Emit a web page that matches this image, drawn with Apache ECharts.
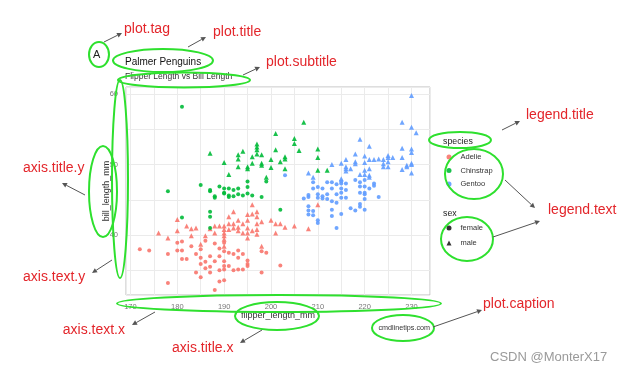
<!DOCTYPE html>
<html><head><meta charset="utf-8">
<script src="https://cdn.jsdelivr.net/npm/echarts@6/dist/echarts.min.js"></script>
<style>html,body{margin:0;padding:0;background:#fff}#c{width:631px;height:373px}</style>
</head><body><div id="c"></div>
<script>
const xTicks = [170,180,190,200,210,220,230];
const yTicks = [40,50,60];
const speciesNames = ['Adelie','Chinstrap','Gentoo'];
const sexNames = ['female','male'];

const adelieFemale = [[172,38.0],[174,37.8],[178,37.3],[178,33.2],[180,38.9],[180,37.8],[181,37.8],[181,36.6],[182,36.6],[183,38.4],[184,37.3],[184,34.7],[185,38.0],[185,36.8],[185,35.9],[185,34.0],[186,36.2],[186,35.3],[187,37.0],[187,35.5],[187,34.7],[188,36.3],[188,32.2],[189,38.1],[189,37.0],[189,35.0],[189,33.4],[190,37.7],[190,36.3],[190,35.6],[190,35.1],[190,33.6],[191,37.5],[191,35.6],[192,37.3],[192,35.0],[193,37.8],[193,36.8],[193,35.1],[194,37.3],[194,35.1],[195,36.4],[195,35.9],[195,35.6],[198,37.7],[198,34.7],[199,37.5],[202,35.7],[181,39.1],[186,39.2],[190,38.9],[188,38.8]];
const adelieMale = [[176,40.3],[178,39.6],[180,42.2],[180,40.6],[182,41.3],[183,40.9],[183,39.9],[184,41.0],[185,38.7],[186,39.9],[187,40.9],[188,41.3],[188,40.3],[189,41.3],[190,41.3],[190,40.8],[190,40.3],[190,39.9],[190,39.4],[190,38.4],[191,42.6],[191,41.6],[191,40.8],[192,43.3],[192,41.6],[192,41.0],[193,42.1],[193,41.1],[193,40.6],[194,41.6],[194,40.3],[195,42.9],[195,42.1],[195,41.0],[195,40.3],[195,39.6],[196,44.3],[196,43.0],[196,40.6],[197,43.3],[197,42.6],[197,41.6],[197,40.8],[197,40.1],[198,41.9],[198,38.4],[200,42.1],[201,41.6],[201,40.3],[202,41.6],[203,41.1],[205,41.3],[208,40.9],[210,44.3]];
const chinstrapFemale = [[181,58.2],[178,46.2],[181,42.5],[185,47.1],[187,46.4],[187,46.2],[187,43.3],[187,42.6],[187,41.0],[188,45.5],[188,45.3],[189,46.9],[190,46.6],[190,46.0],[190,45.9],[191,46.6],[191,45.4],[191,45.6],[192,46.4],[192,45.5],[193,46.6],[193,45.8],[194,45.6],[195,47.6],[195,46.8],[195,45.9],[196,45.6],[198,45.4],[199,47.6],[202,43.6]];
const chinstrapMale = [[187,51.6],[190,50.3],[193,51.4],[193,50.8],[193,49.7],[194,51.9],[195,49.7],[195,49.4],[196,51.1],[196,50.2],[197,52.9],[197,52.5],[197,52.1],[197,51.5],[198,51.4],[198,50.2],[198,49.9],[200,50.7],[200,49.6],[201,54.4],[201,52.1],[202,50.4],[203,51.1],[203,50.8],[203,49.4],[205,53.7],[205,53.0],[206,52.0],[207,56.0],[210,52.2],[210,51.0],[210,49.2],[212,49.2],[191,48.6],[199,48.2]];
const gentooFemale = [[203,48.5],[209,47.5],[209,46.6],[210,46.8],[211,46.6],[212,47.5],[213,47.5],[213,46.6],[214,47.2],[215,47.6],[215,47.3],[215,46.6],[218,47.8],[219,47.5],[219,46.9],[220,47.8],[220,46.9],[221,46.6],[222,47.3],[222,47.0],[216,47.3],[216,46.4],[207,45.2],[208,45.4],[208,45.7],[208,44.1],[208,43.5],[208,42.9],[209,43.4],[209,42.8],[210,45.8],[210,45.3],[210,42.1],[210,41.7],[211,45.5],[211,45.2],[212,45.8],[212,45.1],[213,44.8],[213,43.6],[213,42.7],[214,45.8],[214,44.6],[214,41.0],[215,46.0],[215,45.3],[215,43.0],[216,45.3],[217,43.8],[218,43.5],[219,46.0],[219,44.4],[219,44.0],[220,45.8],[220,45.1],[220,43.6],[220,46.0],[223,45.4]];
const gentooMale = [[230,59.8],[228,56.0],[230,55.3],[231,54.5],[219,53.6],[221,52.6],[228,52.3],[230,52.2],[230,51.7],[218,51.5],[225,51.3],[220,51.2],[225,51.0],[226,51.0],[228,51.0],[223,50.8],[216,50.7],[221,50.7],[222,50.7],[224,50.7],[225,50.4],[218,50.4],[220,50.3],[215,50.2],[230,50.2],[218,50.1],[224,50.1],[213,50.0],[230,50.0],[229,49.9],[216,49.7],[224,49.7],[225,49.7],[229,49.7],[216,49.4],[217,49.4],[221,49.4],[228,49.3],[220,49.2],[216,49.1],[230,48.8],[208,48.8],[219,48.6],[220,48.6],[221,48.5],[209,48.2],[221,48.2],[215,48.0]];

const FONT = "'Liberation Sans', Arial, sans-serif";
const COLORS = {Adelie:'#F8766D', Chinstrap:'#00BA38', Gentoo:'#619CFF'};
const GREEN = '#2ee02e', RED = '#e3262b', ARROW = '#555';

function isTick(list, v){ return list.some(t => Math.abs(t - v) < 1e-6); }

function ellipse(cx, cy, rx, ry){
  return {type:'ellipse', z:100, silent:true, shape:{cx, cy, rx, ry}, style:{fill:'none', stroke:GREEN, lineWidth:2}};
}
function redText(text, x, y, align){
  return {type:'text', z:100, silent:true, x, y, style:{text, fill:RED, fontSize:14, fontFamily:FONT, align:align||'left', verticalAlign:'middle'}};
}
function arrow(x1, y1, x2, y2){
  const a = Math.atan2(y2-y1, x2-x1), L = 5, W = 2.5;
  const bx = x2 - L*Math.cos(a), by = y2 - L*Math.sin(a);
  return [
    {type:'line', z:100, silent:true, shape:{x1, y1, x2:bx, y2:by}, style:{stroke:ARROW, lineWidth:1}},
    {type:'polygon', z:100, silent:true, shape:{points:[[x2,y2],[bx+W*Math.sin(a), by-W*Math.cos(a)],[bx-W*Math.sin(a), by+W*Math.cos(a)]]}, style:{fill:ARROW}}
  ];
}

const chart = echarts.init(document.getElementById('c'), null, {renderer:'canvas'});

function sc(name, data, sym){
  return {name, type:'scatter', data, symbol:sym, symbolSize: sym==='triangle'?5:4,
    itemStyle:{color:COLORS[name], opacity:0.9}, emphasis:{disabled:true}};
}

const graphics = [
  ellipse(99,54.5,10,12.5),
  ellipse(163,60.5,50,11.5),
  ellipse(184,80,66,7.5),
  ellipse(103,191.5,14,45.5),
  ellipse(120,179,8,99),
  ellipse(279,303.5,162,8.5),
  ellipse(277,316,42,14),
  ellipse(403,328,31,13),
  ellipse(460,140,31,8),
  ellipse(474,174,29,25),
  ellipse(467,239,26,22),
  redText('plot.tag',124,29),
  redText('plot.title',213,32),
  redText('plot.subtitle',266,62),
  redText('axis.title.y',23,168),
  redText('axis.text.y',23,277),
  redText('axis.text.x',125,330,'right'),
  redText('axis.title.x',172,348),
  redText('plot.caption',483,304),
  redText('legend.title',526,115),
  redText('legend.text',548,210),
  ...arrow(104,42,122,33),
  ...arrow(188,47,206,37),
  ...arrow(243,75,260,67),
  ...arrow(85,195,62,183),
  ...arrow(112,260,92,273),
  ...arrow(155,312,132,325),
  ...arrow(262,330,240,343),
  ...arrow(433,327,482,310),
  ...arrow(502,130,520,121),
  ...arrow(505,180,535,208),
  ...arrow(493,237,540,221),
  {type:'text', z:50, silent:true, x:443, y:142, style:{text:'species', fill:'#222', fontSize:8.8, fontFamily:FONT, verticalAlign:'middle'}},
  {type:'text', z:50, silent:true, x:443, y:214, style:{text:'sex', fill:'#222', fontSize:8.8, fontFamily:FONT, verticalAlign:'middle'}},
  {type:'text', z:50, silent:true, x:490, y:357, style:{text:'CSDN @MonterX17', fill:'#9a9a9a', fontSize:13, fontFamily:FONT, verticalAlign:'middle'}}
];

const legendText = {fontSize:7.5, color:'#333', fontFamily:FONT, lineHeight:9, padding:[0,0,0,4]};

const option = {
  animation:false,
  backgroundColor:'#fff',
  title:[
    {text:'A', left:93, top:49, padding:0, textStyle:{fontSize:11, fontWeight:'normal', color:'#222', fontFamily:FONT}},
    {text:'Palmer Penguins', subtext:'Flipper Length vs Bill Length', left:125, top:57, padding:0, itemGap:5,
      textStyle:{fontSize:10, fontWeight:'normal', color:'#111', fontFamily:FONT},
      subtextStyle:{fontSize:8.5, color:'#333', fontFamily:FONT}},
    {text:'cmdlinetips.com', right:201, top:325, padding:0, textStyle:{fontSize:7.2, fontWeight:'normal', color:'#333', fontFamily:FONT}}
  ],
  grid:{left:126, top:87, right:201, bottom:78, show:true, borderColor:'#bdbdbd', borderWidth:1, backgroundColor:'#fff'},
  xAxis:{type:'value', min:169.05, max:233.95, minInterval:5, maxInterval:5,
    name:'flipper_length_mm', nameLocation:'middle', nameGap:16, nameMoveOverlap:false,
    nameTextStyle:{fontSize:9, color:'#333', fontFamily:FONT},
    axisLine:{show:false}, axisTick:{show:false},
    axisLabel:{fontSize:7.5, color:'#777', fontFamily:FONT, margin:8, showMinLabel:false, showMaxLabel:false,
      formatter: v => isTick(xTicks, v) ? String(Math.round(v)) : ''},
    splitLine:{show:true, lineStyle:{color:'#ebebeb', width:1}}},
  yAxis:{type:'value', min:31.5, max:61, minInterval:5, maxInterval:5,
    name:'bill_length_mm', nameLocation:'middle', nameGap:15, nameMoveOverlap:false,
    nameTextStyle:{fontSize:9, color:'#333', fontFamily:FONT},
    axisLine:{show:false}, axisTick:{show:false},
    axisLabel:{fontSize:7.5, color:'#777', fontFamily:FONT, margin:8, showMinLabel:false, showMaxLabel:false,
      formatter: v => isTick(yTicks, v) ? String(Math.round(v)) : ''},
    splitLine:{show:true, lineStyle:{color:'#ebebeb', width:1}}},
  legend:[
    {data:speciesNames.map(n => ({name:n, icon:'circle'})), orient:'vertical', left:446.5, top:152.5, padding:0,
      itemWidth:5, itemHeight:5, itemGap:4.5, selectedMode:false, textStyle:legendText},
    {data:[{name:sexNames[0], icon:'circle'},{name:sexNames[1], icon:'triangle'}], orient:'vertical', left:446.5, top:223.5, padding:0,
      itemWidth:5, itemHeight:5, itemGap:6, selectedMode:false, textStyle:legendText}
  ],
  series:[
    sc('Adelie', adelieFemale, 'circle'),
    sc('Adelie', adelieMale, 'triangle'),
    sc('Chinstrap', chinstrapFemale, 'circle'),
    sc('Chinstrap', chinstrapMale, 'triangle'),
    sc('Gentoo', gentooFemale, 'circle'),
    sc('Gentoo', gentooMale, 'triangle'),
    {name:sexNames[0], type:'scatter', data:[], symbol:'circle', itemStyle:{color:'#000'}},
    {name:sexNames[1], type:'scatter', data:[], symbol:'triangle', itemStyle:{color:'#000'}}
  ],
  graphic: graphics
};
chart.setOption(option);
</script>
</body></html>
